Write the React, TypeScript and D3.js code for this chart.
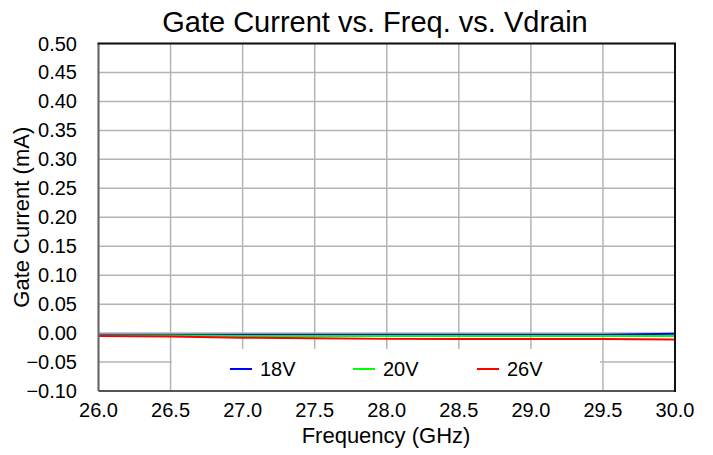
import React from 'react';
import * as d3 from 'd3';

const W = 713, H = 455;
const margin = { left: 98.5, right: 713 - 675, top: 43.5, bottom: 455 - 391 };

const freqs = [26.0, 26.5, 27.0, 27.5, 28.0, 28.5, 29.0, 29.5, 30.0];
const i18V = [-0.003, -0.003, -0.003, -0.003, -0.003, -0.003, -0.003, -0.003, -0.001];
const i20V = [-0.004, -0.004, -0.005, -0.005, -0.005, -0.005, -0.005, -0.005, -0.005];
const i26V = [-0.005, -0.006, -0.008, -0.009, -0.010, -0.010, -0.010, -0.010, -0.011];

const xTicks = [26.0, 26.5, 27.0, 27.5, 28.0, 28.5, 29.0, 29.5, 30.0];
const yTicks = [-0.1, -0.05, 0, 0.05, 0.1, 0.15, 0.2, 0.25, 0.3, 0.35, 0.4, 0.45, 0.5];

const series = [
  { name: '18V', color: '#0000ff', values: i18V },
  { name: '20V', color: '#00ff00', values: i20V },
  { name: '26V', color: '#ff0000', values: i26V },
];

const font = '"Liberation Sans", Arial, sans-serif';

export default function App() {
  const x = d3.scaleLinear().domain([26, 30]).range([margin.left, W - margin.right]);
  const y = d3.scaleLinear().domain([-0.1, 0.5]).range([H - margin.bottom, margin.top]);

  const line = d3.line<[number, number]>()
    .x(d => x(d[0]))
    .y(d => y(d[1]));

  const legX = [230, 353, 477];

  return (
    <svg width={W} height={H} style={{ position: 'absolute', left: 0, top: 0 }} fontFamily={font}>
      <rect width={W} height={H} fill="#fff" />
      {/* grid */}
      {xTicks.map(t => (
        <line key={'gx' + t} x1={x(t)} x2={x(t)} y1={y(0.5)} y2={y(-0.1)} stroke="#b4b4b4" strokeWidth={1.5} />
      ))}
      {yTicks.map(t => (
        <line key={'gy' + t} x1={x(26)} x2={x(30)} y1={y(t)} y2={y(t)} stroke="#b4b4b4" strokeWidth={1.5} />
      ))}
      {/* data */}
      {series.map(s => (
        <path key={s.name} d={line(freqs.map((f, i) => [f, s.values[i]] as [number, number])) || ''}
          fill="none" stroke={s.color} strokeWidth={2} />
      ))}
      {/* legend */}
      <rect x={172} y={349} width={428} height={y(-0.1) - 349} fill="#fff" />
      {series.map((s, i) => (
        <g key={'lg' + s.name}>
          <line x1={legX[i]} x2={legX[i] + 22} y1={369} y2={369} stroke={s.color} strokeWidth={2} />
          <text x={legX[i] + 30} y={376} fontSize={20}>{s.name}</text>
        </g>
      ))}
      {/* frame */}
      <line x1={x(26)} x2={x(26)} y1={y(0.5)} y2={y(-0.1)} stroke="#666" strokeWidth={2} />
      <line x1={x(26)} x2={x(30)} y1={y(-0.1)} y2={y(-0.1)} stroke="#555" strokeWidth={2} />
      <line x1={x(26) - 1} x2={x(30) + 1} y1={y(0.5)} y2={y(0.5)} stroke="#111" strokeWidth={2} />
      <line x1={x(30)} x2={x(30)} y1={y(0.5)} y2={y(-0.1) + 1} stroke="#111" strokeWidth={2} />
      {/* ticks */}
      {yTicks.map(t => (
        <text key={'yt' + t} x={77} y={y(t) + 7} textAnchor="end" fontSize={20}>{d3.format('.2f')(t)}</text>
      ))}
      {xTicks.map(t => (
        <text key={'xt' + t} x={x(t)} y={417} textAnchor="middle" fontSize={20}>{d3.format('.1f')(t)}</text>
      ))}
      <text x={375} y={31.5} textAnchor="middle" fontSize={29}>Gate Current vs. Freq. vs. Vdrain</text>
      <text x={386} y={443} textAnchor="middle" fontSize={22}>Frequency (GHz)</text>
      <text transform={`translate(29,${(y(0.5) + y(-0.1)) / 2}) rotate(-90)`} textAnchor="middle" fontSize={22}>Gate Current (mA)</text>
    </svg>
  );
}
